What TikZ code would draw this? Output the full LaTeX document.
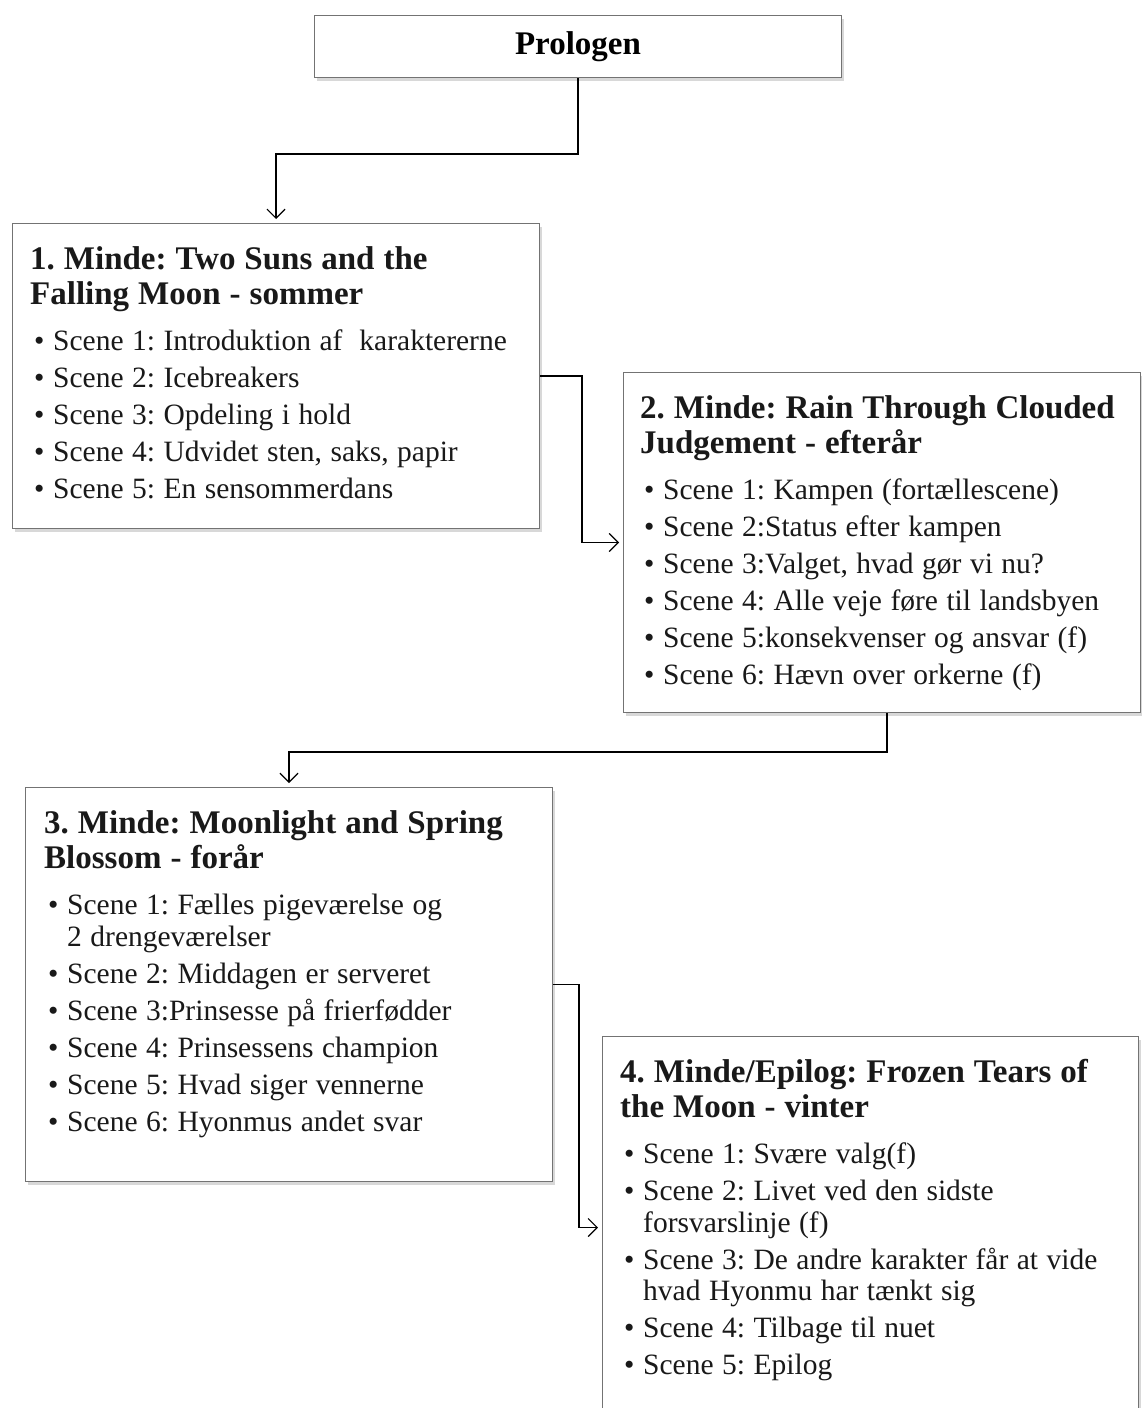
\documentclass[tikz,border=0pt]{standalone}
\usepackage{fontspec}
\setmainfont{Liberation Serif}
\usetikzlibrary{arrows.meta,shadows,positioning}
\newcommand\mindetitle[1]{{\noindent\fontsize{33}{35}\selectfont\bfseries
  \spaceskip=9pt plus 3pt minus 1pt\xspaceskip=\spaceskip\strut#1\par}\vspace{9pt}}
\newcommand\bodyfont{\fontsize{29.5}{31.5}\selectfont\parskip=5.5pt
  \spaceskip=8.5pt plus 3pt minus 1pt\xspaceskip=\spaceskip}
\newcommand\scene[1]{\par\leftskip=4pt\hangindent=19pt\hangafter=1\noindent\makebox[19pt][l]{\textbullet}#1\par}

\begin{document}
\begin{tikzpicture}[x=1pt, y=1pt,
    mbox/.style={draw=black!55, line width=1pt, fill=white, anchor=north west, inner sep=0pt,
      drop shadow={shadow xshift=2.5pt, shadow yshift=-3.5pt, fill=black!30}},
    mtext/.style={inner sep=0pt, text width=#1, text=black!90},
    flow/.style={line width=1.4pt, -{Straight Barb[length=9pt, width=18pt, line width=1.2pt]}, shorten >=4pt}]
    \useasboundingbox (0,0) rectangle (1142,-1408);

    % boxes
    \node[mbox, minimum width=527pt, minimum height=62pt] (prolog) at (314,-15)
      {\fontsize{33}{35}\selectfont\bfseries Prologen};
    \node[mbox, minimum width=527pt, minimum height=305pt] (m1) at (12,-223) {};
    \node[mbox, minimum width=517pt, minimum height=340pt] (m2) at (623,-372) {};
    \node[mbox, minimum width=527pt, minimum height=394pt] (m3) at (25,-787) {};
    \node[mbox, minimum width=536pt, minimum height=382pt] (m4) at (602,-1036) {};

    % texts
    \node[mtext=505pt, below right=22pt and 18pt of m1.north west] (m1t) {%
      \mindetitle{1. Minde: Two Suns and the\newline Falling Moon - sommer}\bodyfont
      \scene{Scene 1: Introduktion af\ \ karaktererne}
      \scene{Scene 2: Icebreakers}
      \scene{Scene 3: Opdeling i hold}
      \scene{Scene 4: Udvidet sten, saks, papir}
      \scene{Scene 5: En sensommerdans}};
    \node[mtext=505pt, below right=22pt and 17pt of m2.north west] (m2t) {%
      \mindetitle{2. Minde: Rain Through Clouded\newline Judgement - efterår}\bodyfont
      \scene{Scene 1: Kampen (fortællescene)}
      \scene{Scene 2:Status efter kampen}
      \scene{Scene 3:Valget, hvad gør vi nu?}
      \scene{Scene 4: Alle veje føre til landsbyen}
      \scene{Scene 5:konsekvenser og ansvar (f)}
      \scene{Scene 6: Hævn over orkerne (f)}};
    \node[mtext=505pt, below right=22pt and 19pt of m3.north west] (m3t) {%
      \mindetitle{3. Minde: Moonlight and Spring\newline Blossom - forår}\bodyfont
      \scene{Scene 1: Fælles pigeværelse og\newline 2 drengeværelser}
      \scene{Scene 2: Middagen er serveret}
      \scene{Scene 3:Prinsesse på frierfødder}
      \scene{Scene 4: Prinsessens champion}
      \scene{Scene 5: Hvad siger vennerne}
      \scene{Scene 6: Hyonmus andet svar}};
    \node[mtext=515pt, below right=22pt and 18pt of m4.north west] (m4t) {%
      \mindetitle{4. Minde/Epilog: Frozen Tears of\newline the Moon - vinter}\bodyfont
      \scene{Scene 1: Svære valg(f)}
      \scene{Scene 2: Livet ved den sidste\newline forsvarslinje (f)}
      \scene{Scene 3: De andre karakter får at vide\newline hvad Hyonmu har tænkt sig}
      \scene{Scene 4: Tilbage til nuet}
      \scene{Scene 5: Epilog}};

    % connectors
    \draw[flow] (prolog.south) -- ++(0,-76) -| (m1.north);
    \draw[flow] (m1.east) -- ++(42,0) |- (m2.west);
    \draw[flow] ([xshift=5pt]m2.south) -- ++(0,-39) -| (m3.north);
    \draw[flow] (m3.east) -- ++(26,0) |- (m4.west);
\end{tikzpicture}
\end{document}
